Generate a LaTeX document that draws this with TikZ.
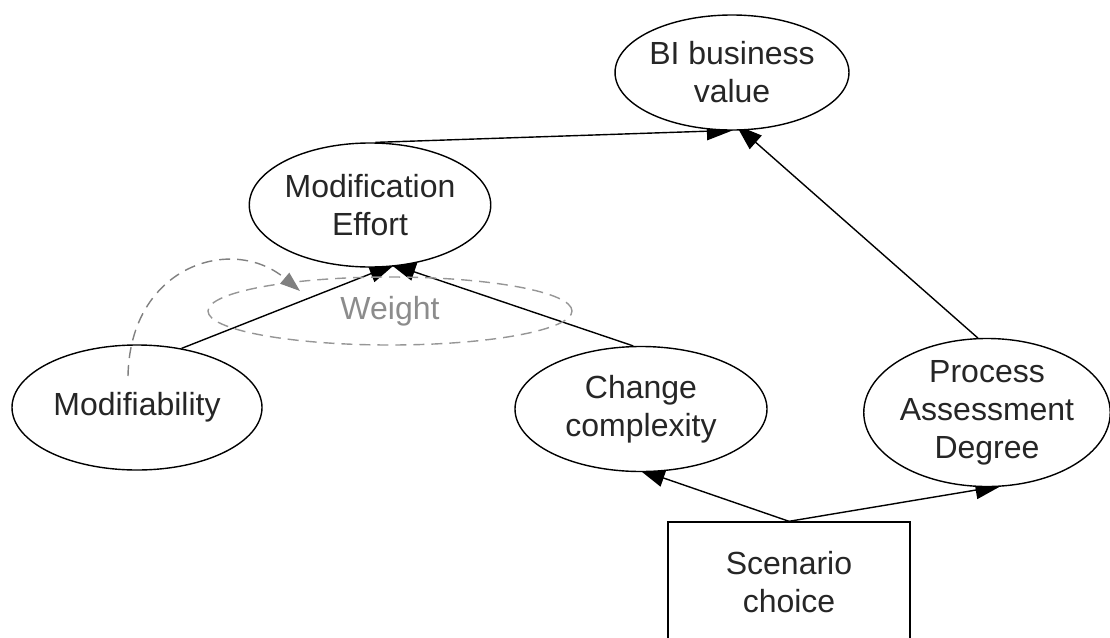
\documentclass[tikz,border=0pt]{standalone}
\usepackage{fontspec}
\setmainfont{Liberation Sans}
\usetikzlibrary{shapes.geometric,arrows.meta}
\definecolor{dashgray}{RGB}{150,150,150}
\definecolor{arrowgray}{RGB}{128,128,128}
\definecolor{labelgray}{RGB}{140,140,140}
\pgfdeclarelayer{background}
\pgfsetlayers{background,main}
\begin{document}
\begin{tikzpicture}[x=1pt,y=-1pt,
  every node/.style={font=\fontsize{32}{38}\selectfont, align=center, text=black!85},
  concept/.style={draw, fill=white, ellipse, line width=1.4pt, inner sep=0pt},
  boxnode/.style={draw, fill=white, rectangle, line width=1.4pt, inner sep=0pt},
  link/.style={line width=1.4pt, shorten >=-8pt, -{Triangle[length=26pt,width=18pt]}},
  weightring/.style={draw=dashgray, ellipse, dash pattern=on 11pt off 7pt, line width=1.4pt, inner sep=0pt, text=labelgray},
  weightlink/.style={draw=arrowgray, dash pattern=on 11pt off 7pt, line width=1.4pt, -{Triangle[length=20pt,width=14pt,fill=arrowgray]}}
]
\useasboundingbox (0,0) rectangle (1110,637);

% concepts (white fill hides the arrow tips that reach inside)
\node[concept, minimum width=220pt, minimum height=115pt] (bi) at (732,72.5) {BI business\\value};
\node[concept, minimum width=216pt, minimum height=124pt] (me) at (370,205) {Modification\\Effort};
\node[weightring, minimum width=364pt, minimum height=68pt] (wt) at (390,311) {Weight};
\node[concept, minimum width=250pt, minimum height=125pt] (mod) at (137,407.5) {Modifiability};
\node[concept, minimum width=252pt, minimum height=125pt] (cc) at (641,409) {Change\\complexity};
\node[concept, minimum width=242pt, minimum height=125pt] (pad) at (987,412.5) {Process\\Assessment\\Degree};
\node[boxnode, minimum width=242pt, minimum height=160pt] (sc) at (789,602) {};
\node (sctext) at (789,582) {Scenario\\choice};

% influence arrows, drawn underneath the concepts
\begin{pgfonlayer}{background}
\draw[link] (me.85) -- (bi.263);
\draw[link] (pad.97) -- (bi.280);
\draw[link] (mod.53) -- (me.286);
\draw[link] (cc.97) -- (me.294);
\draw[link] (sc.north) -- (cc.275);
\draw[link] (sc.north) -- (pad.275);
\end{pgfonlayer}

% weighting of modifiability
\coordinate (wstart) at (128,376);
\coordinate (wend) at (300,291);
\draw[weightlink] (wstart) .. controls (130,266) and (232,234) .. (wend);
\end{tikzpicture}
\end{document}
